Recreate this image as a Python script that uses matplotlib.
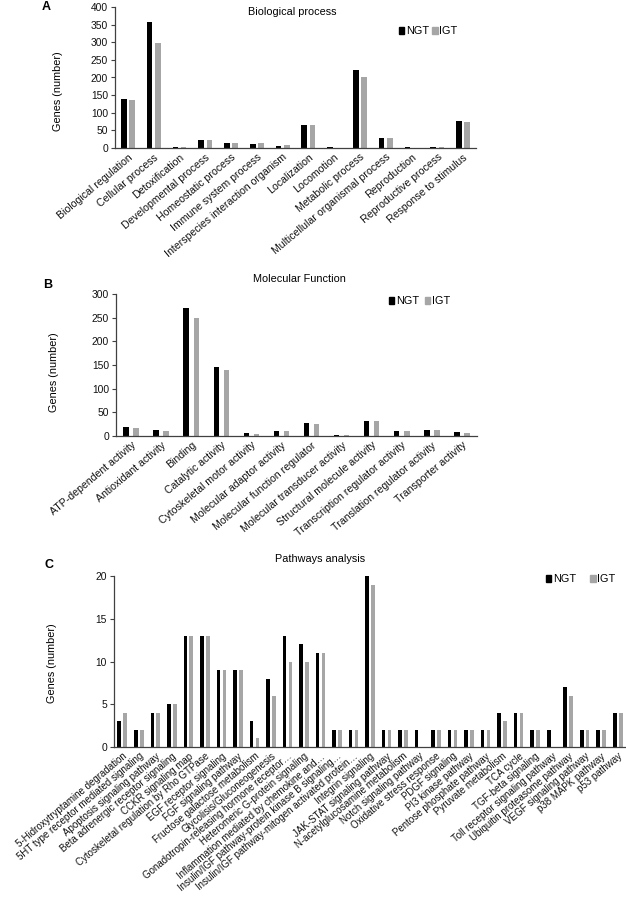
import numpy as np
import matplotlib
matplotlib.use('Agg')
import matplotlib.pyplot as plt
from matplotlib.patches import Patch

plt.rcParams['font.family'] = ['Liberation Sans', 'DejaVu Sans']

# ---------------- data ----------------
bp_categories = ["Biological regulation", "Cellular process", "Detoxification",
                 "Developmental process", "Homeostatic process", "Immune system process",
                 "Interspecies interaction organism", "Localization", "Locomotion",
                 "Metabolic process", "Multicellular organismal process", "Reproduction",
                 "Reproductive process", "Response to stimulus"]
bp_ngt = [140, 358, 3, 22, 13, 12, 7, 65, 4, 221, 28, 2, 2, 77]
bp_igt = [135, 299, 3, 22, 13, 13, 9, 65, 1, 200, 28, 1, 2, 74]

mf_categories = ["ATP-dependent activity", "Antioxidant activity", "Binding",
                 "Catalytic activity", "Cytoskeletal motor activity",
                 "Molecular adaptor activity", "Molecular function regulator",
                 "Molecular transducer activity", "Structural molecule activity",
                 "Transcription regulator activity", "Translation regulator activity",
                 "Transporter activity"]
mf_ngt = [20, 12, 270, 145, 6, 11, 27, 3, 32, 10, 13, 8]
mf_igt = [17, 11, 250, 139, 5, 10, 25, 3, 32, 10, 13, 7]

pw_categories = ["5-Hidroxytryptamine degradation", "5HT type receptor mediated signaling",
                 "Apoptosis signaling pathway", "Beta adrenergic receptor signaling",
                 "CCKR signaling map", "Cytoskeletal regulation by Rho GTPase",
                 "EGF receptor signaling", "FGF signaling pathway",
                 "Fructose galactose metabolism", "Glycolisis/Gluconeogenesis",
                 "Gonadotropin-releasing hormone receptor\u2026",
                 "Heteromeric G-protein signaling",
                 "Inflammation mediated by chemokine and\u2026",
                 "Insulin/IGF pathway-protein kinase B signaling\u2026",
                 "Insulin/IGF pathway-mitogen activated protein\u2026",
                 "Integrin signaling", "JAK-STAT signaling pathway",
                 "N-acetylglucosamine metabolism", "Notch signaling pathway",
                 "Oxidative stress response", "PDGF signaling", "PI3 kinase pathway",
                 "Pentose phosphate pathway", "Pyruvate metabolism", "TCA cycle",
                 "TGF-beta signaling", "Toll receptor signaling pathway",
                 "Ubiquitin proteasome pathway", "VEGF signaling pathway",
                 "p38 MAPK pathway", "p53 pathway"]
pw_ngt = [3, 2, 4, 5, 13, 13, 9, 9, 3, 8, 13, 12, 11, 2, 2, 20, 2, 2, 2, 2, 2, 2, 2, 4, 4, 2, 2, 7, 2, 2, 4]
pw_igt = [4, 2, 4, 5, 13, 13, 9, 9, 1, 6, 10, 10, 11, 2, 2, 19, 2, 2, 0, 2, 2, 2, 2, 3, 4, 2, 0, 6, 2, 2, 4]

series_names = ["NGT", "IGT"]

# ---------------- style ----------------
W, H = 626, 900
BLACK = '#000000'
GREY = '#a6a6a6'
AXC = '#404040'
ROT = 40
TICK_FS = 7.4

fig = plt.figure(figsize=(W / 100, H / 100), dpi=100)


def box(l, r, t, b):
    return [l / W, 1 - b / H, (r - l) / W, (b - t) / H]


def panel(rect, cats, ngt, igt, ymax, ystep, width, off, lbl_fs):
    ax = fig.add_axes(rect)
    x = np.arange(len(cats))
    ax.bar(x - off, ngt, width, color=BLACK, linewidth=0)
    ax.bar(x + off, igt, width, color=GREY, linewidth=0)
    ax.set_xlim(-0.5, len(cats) - 0.5)
    ax.set_ylim(0, ymax)
    ax.set_yticks(np.arange(0, ymax + 0.01, ystep))
    ax.set_xticks(x)
    ax.set_xticklabels(cats, rotation=ROT, ha='right', va='top',
                       rotation_mode='anchor', fontsize=lbl_fs, color='#111111')
    ax.tick_params(axis='x', length=0, pad=3)
    ax.tick_params(axis='y', length=3, width=0.8, color=AXC, labelsize=TICK_FS,
                   pad=2, labelcolor='#111111')
    for s in ['top', 'right']:
        ax.spines[s].set_visible(False)
    for s in ['left', 'bottom']:
        ax.spines[s].set_color(AXC)
        ax.spines[s].set_linewidth(0.9)
    return ax


def legend(x, y, colsp):
    handles = [Patch(color=BLACK, label=series_names[0]),
               Patch(color=GREY, label=series_names[1])]
    fig.legend(handles=handles, loc='center left', bbox_to_anchor=(x / W, 1 - y / H),
               bbox_transform=fig.transFigure, ncol=2, frameon=False,
               handlelength=0.5, handleheight=0.6, handletextpad=0.15,
               columnspacing=colsp, fontsize=7.8, borderpad=0, borderaxespad=0)


def ftext(x, y, s, **kw):
    fig.text(x / W, 1 - y / H, s, **kw)


# Panel A
panel(box(115, 476, 7, 148), bp_categories, bp_ngt, bp_igt, 400, 50, 0.22, 0.16, 7.6)
ftext(292, 12, "Biological process", ha='center', va='center', fontsize=7.8)
ftext(46, 7, "A", ha='center', va='center', fontsize=9, fontweight='bold')
ftext(58, 91, "Genes (number)", ha='center', va='center', rotation=90, fontsize=7.8)
legend(399, 31, 0.3)

# Panel B
panel(box(116, 477, 294, 436), mf_categories, mf_ngt, mf_igt, 300, 50, 0.18, 0.167, 7.6)
ftext(299, 279, "Molecular Function", ha='center', va='center', fontsize=7.8)
ftext(48, 285, "B", ha='center', va='center', fontsize=9, fontweight='bold')
ftext(54, 372, "Genes (number)", ha='center', va='center', rotation=90, fontsize=7.8)
legend(389, 301, 0.5)

# Panel C
panel(box(114, 626, 576, 747), pw_categories, pw_ngt, pw_igt, 20, 5, 0.22, 0.18, 7.0)
ftext(320, 559, "Pathways analysis", ha='center', va='center', fontsize=7.8)
ftext(49, 565, "C", ha='center', va='center', fontsize=9, fontweight='bold')
ftext(52, 663, "Genes (number)", ha='center', va='center', rotation=90, fontsize=7.8)
legend(546, 579, 1.3)

fig.savefig('out.png', dpi=100)
